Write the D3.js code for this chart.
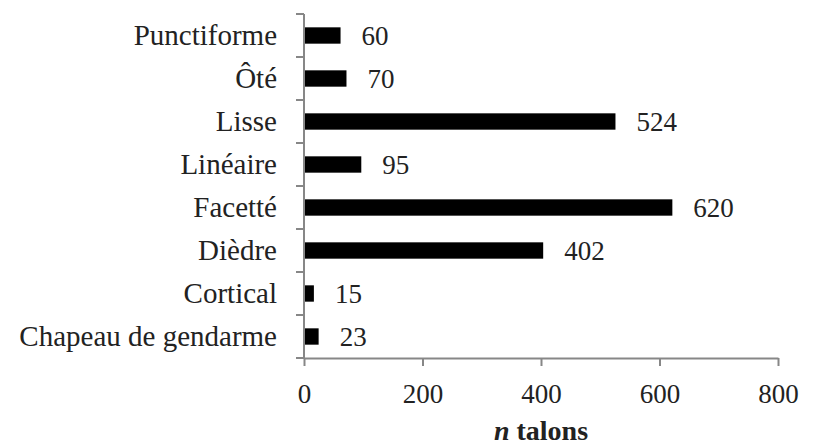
<!DOCTYPE html>
<html>
<head>
<meta charset="utf-8">
<script src="https://cdn.jsdelivr.net/npm/d3@7"></script>
<style>
  html, body { margin: 0; padding: 0; background: #fff; }
  svg { display: block; }
</style>
</head>
<body>
<svg id="chart" width="819" height="445"></svg>
<script>
// Butt (talon) types, listed top to bottom
const categories = ["Punctiforme", "Ôté", "Lisse", "Linéaire", "Facetté", "Dièdre", "Cortical", "Chapeau de gendarme"];
const counts = [60, 70, 524, 95, 620, 402, 15, 23];
const xTicks = [0, 200, 400, 600, 800];
const xTitleItalic = "n";
const xTitleRest = " talons";

const data = categories.map((c, i) => ({ cat: c, n: counts[i] }));

const FONT = "font-family:'Liberation Serif','Times New Roman',serif;";
const INK = "#222";

const svg = d3.select("#chart");
const margin = { left: 304, right: 41, top: 14, bottom: 87 };
const W = 819, H = 445;

const x = d3.scaleLinear().domain([0, 800]).range([margin.left, W - margin.right]);
const y = d3.scaleBand().domain(categories).range([margin.top, H - margin.bottom]).paddingInner(0.62).paddingOuter(0.31);

const axisColor = "#878787";

// bars
svg.append("g").selectAll("rect").data(data).join("rect")
  .attr("x", x(0) + 1)
  .attr("y", d => y(d.cat))
  .attr("width", d => x(d.n) - x(0))
  .attr("height", y.bandwidth())
  .attr("fill", "#000");

// value labels
svg.append("g").selectAll("text").data(data).join("text")
  .attr("x", d => x(d.n) + 22)
  .attr("y", d => y(d.cat) + y.bandwidth() / 2)
  .attr("dy", "0.36em")
  .attr("style", FONT + `font-size:27px;fill:${INK}`)
  .text(d => d.n);

// y axis
const yAxis = d3.axisLeft(y).tickSizeInner(0).tickSizeOuter(0).tickPadding(27);
const gy = svg.append("g").attr("transform", `translate(${margin.left},0)`).call(yAxis);
gy.select(".domain").attr("stroke", axisColor).attr("stroke-width", 2)
  .attr("d", `M0,${margin.top}V${H - margin.bottom}`);
gy.selectAll(".tick text").attr("dy", "0.32em")
  .attr("style", FONT + `font-size:29px;fill:${INK}`);
// category separator ticks
const step = y.step();
const bounds = d3.range(categories.length + 1).map(i => margin.top + i * step);
gy.selectAll("line.sep").data(bounds).join("line").attr("class", "sep")
  .attr("x1", -8).attr("x2", 0).attr("y1", d => d).attr("y2", d => d)
  .attr("stroke", axisColor).attr("stroke-width", 2);

// x axis
const xAxis = d3.axisBottom(x).tickValues(xTicks).tickSizeInner(8).tickSizeOuter(0).tickPadding(0);
const gx = svg.append("g").attr("transform", `translate(0,${H - margin.bottom})`).call(xAxis);
gx.select(".domain").attr("stroke", axisColor).attr("stroke-width", 2);
gx.selectAll(".tick line").attr("stroke", axisColor).attr("stroke-width", 2);
gx.selectAll(".tick text").attr("y", 45).attr("dy", null)
  .attr("style", FONT + `font-size:27px;fill:${INK}`);

// x axis title
const title = svg.append("text")
  .attr("x", (x(0) + x(800)) / 2)
  .attr("y", 440)
  .attr("text-anchor", "middle")
  .attr("style", FONT + `font-size:28px;font-weight:bold;fill:${INK}`);
title.append("tspan").attr("style", "font-style:italic").text(xTitleItalic);
title.append("tspan").text(xTitleRest);
</script>
</body>
</html>
